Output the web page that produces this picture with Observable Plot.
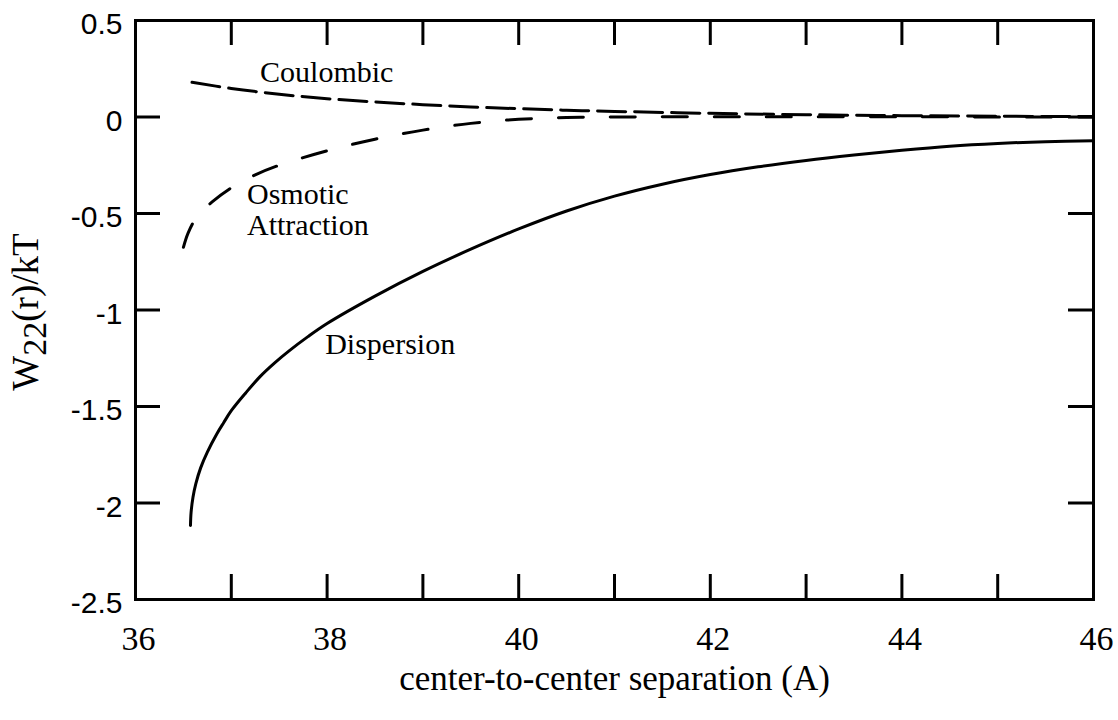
<!DOCTYPE html>
<html>
<head>
<meta charset="utf-8">
<script src="https://cdn.jsdelivr.net/npm/d3@7"></script>
<script src="https://cdn.jsdelivr.net/npm/@observablehq/plot@0.6"></script>
<style>
  html, body { margin: 0; padding: 0; background: #fff; }
  #chart { width: 1118px; height: 720px; }
</style>
</head>
<body>
<div id="chart"></div>
<script>
// ---- data ----
const dispersionX = [36.574, 36.58, 36.6, 36.63, 36.68, 36.75, 36.85, 36.92, 37.0, 37.15, 37.3, 37.45, 37.6, 37.8, 38.0, 38.5, 39.0, 39.5, 40.0, 40.5, 41.0, 41.5, 42.0, 42.5, 43.0, 43.5, 44.0, 44.5, 45.0, 45.5, 46.0];
const dispersionY = [-2.117, -2.05, -1.97, -1.90, -1.818, -1.736, -1.641, -1.584, -1.522, -1.43, -1.345, -1.275, -1.213, -1.138, -1.07, -0.928, -0.80, -0.685, -0.58, -0.487, -0.41, -0.348, -0.298, -0.258, -0.225, -0.197, -0.172, -0.151, -0.137, -0.128, -0.123];

const coulombicX = [36.59, 37.0, 37.5, 38.0, 38.5, 39.0, 39.5, 40.0, 40.5, 41.0, 42.0, 43.0, 44.0, 45.0, 46.0];
const coulombicY = [0.180, 0.148, 0.118, 0.095, 0.078, 0.064, 0.052, 0.043, 0.035, 0.029, 0.019, 0.012, 0.007, 0.004, 0.002];

const osmoticX = [36.50, 36.55, 36.65, 36.8, 37.0, 37.25, 37.5, 38.0, 38.5, 39.0, 39.5, 40.0, 40.5, 41.0, 46.0];
const osmoticY = [-0.675, -0.60, -0.51, -0.44, -0.367, -0.30, -0.25, -0.175, -0.115, -0.068, -0.033, -0.012, -0.003, 0, 0];

const xTickLabels = [36, 38, 40, 42, 44, 46];
const xMinorTicks = [37, 38, 39, 40, 41, 42, 43, 44, 45];
const yTickLabels = [0.5, 0, -0.5, -1, -1.5, -2, -2.5];
const yMinorTicks = [0, -0.5, -1, -1.5, -2];

const labelText = ["Coulombic", "Osmotic\nAttraction", "Dispersion"];
const labelX = [37.30, 37.164, 37.98];
const labelY = [0.296, -0.333, -1.113];

const xTitle = "center-to-center separation (A)";

// ---- build tables ----
const toRows = (xs, ys) => xs.map((x, i) => ({x, y: ys[i]}));
const dispersion = toRows(dispersionX, dispersionY);
const coulombic = toRows(coulombicX, coulombicY);
const osmotic = toRows(osmoticX, osmoticY);
const labels = labelText.map((t, i) => ({text: t, x: labelX[i], y: labelY[i]}));

const W = 1118, H = 720;
const mL = 135, mR = 25, mT = 20, mB = 121;
const plotH = H - mT - mB, plotW = W - mL - mR;
const tickLen = 25;
const serif = "'Liberation Serif', 'Times New Roman', serif";
const sans = "'Liberation Sans', Arial, sans-serif";

const chart = Plot.plot({
  width: W, height: H,
  marginLeft: mL, marginRight: mR, marginTop: mT, marginBottom: mB,
  x: {domain: [36, 46]},
  y: {domain: [-2.5, 0.5]},
  style: {background: "#fff", color: "#000"},
  marks: [
    Plot.frame({stroke: "#000", strokeWidth: 3}),
    // inward ticks
    Plot.tickX(xMinorTicks, {x: d => d, insetTop: plotH - tickLen, stroke: "#000", strokeWidth: 3}),
    Plot.tickX(xMinorTicks, {x: d => d, insetBottom: plotH - tickLen, stroke: "#000", strokeWidth: 3}),
    Plot.tickY(yMinorTicks, {y: d => d, insetRight: plotW - tickLen, stroke: "#000", strokeWidth: 3}),
    Plot.tickY(yMinorTicks, {y: d => d, insetLeft: plotW - tickLen, stroke: "#000", strokeWidth: 3}),
    Plot.axisX({ticks: xTickLabels, tickSize: 0, tickPadding: 26, fontSize: 34, fontFamily: serif, tickFormat: d => String(d), label: null, dx: 3}),
    Plot.axisY({ticks: yTickLabels, tickSize: 0, tickPadding: 13, fontSize: 30, fontFamily: sans, tickFormat: d => String(d), label: null, dy: 4}),
    // curves
    Plot.line(dispersion, {x: "x", y: "y", stroke: "#000", strokeWidth: 3, curve: "catmull-rom"}),
    Plot.line(coulombic, {x: "x", y: "y", stroke: "#000", strokeWidth: 3, curve: "catmull-rom", strokeDasharray: "28,9"}),
    Plot.line(osmotic, {x: "x", y: "y", stroke: "#000", strokeWidth: 3, curve: "catmull-rom", strokeDasharray: "25,27"}),
    // curve labels
    Plot.text(labels, {x: "x", y: "y", text: "text", textAnchor: "start", lineAnchor: "top", fontSize: 30, fontFamily: serif, lineHeight: 1.05, fill: "#000"}),
    // x axis title
    Plot.text([xTitle], {frameAnchor: "bottom", text: d => d, dy: 66, lineAnchor: "top", fontSize: 35, fontFamily: serif, fill: "#000"})
  ]
});

document.getElementById("chart").appendChild(chart);

// y axis title with subscript
const svg = d3.select(chart);
const yt = svg.append("text")
  .attr("transform", `translate(38, 312) rotate(-90)`)
  .attr("text-anchor", "middle")
  .attr("font-family", serif)
  .attr("font-size", 37)
  .attr("fill", "#000");
yt.append("tspan").text("W");
yt.append("tspan").attr("dy", 8).attr("font-size", 34).text("22");
yt.append("tspan").attr("dy", -8).text("(r)/kT");
</script>
</body>
</html>
